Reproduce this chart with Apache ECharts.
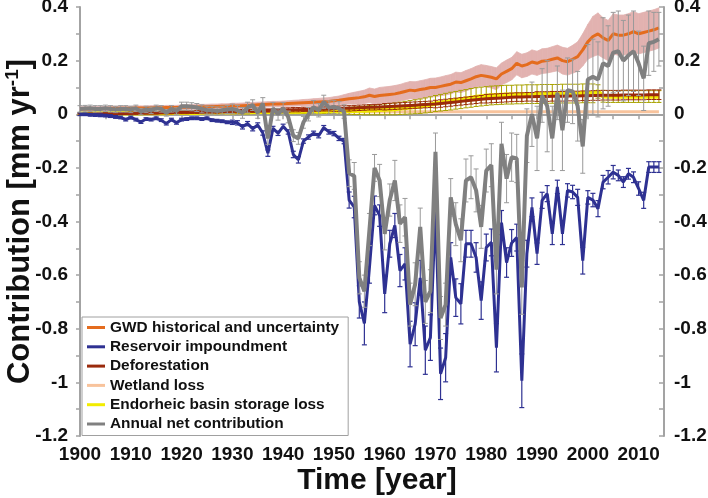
<!DOCTYPE html>
<html><head><meta charset="utf-8">
<script src="https://cdn.jsdelivr.net/npm/echarts@6/dist/echarts.min.js"></script>
<style>html,body{margin:0;padding:0;background:#fff}#c{width:708px;height:498px}</style>
</head><body><div id="c"></div>
<script>
const startYear = 1900;
const xTicks = [1900,1910,1920,1930,1940,1950,1960,1970,1980,1990,2000,2010];
const yTicks = [0.4,0.2,0,-0.2,-0.4,-0.6,-0.8,-1,-1.2];

const reservoir = [
 0,0,-0.002,-0.003,-0.004,-0.005,-0.007,-0.01,-0.012,-0.02,
 -0.012,-0.02,-0.029,-0.018,-0.02,-0.015,-0.022,-0.035,-0.02,-0.032,
 -0.02,-0.018,-0.015,-0.015,-0.018,-0.015,-0.022,-0.024,-0.026,-0.03,
 -0.03,-0.032,-0.047,-0.035,-0.054,-0.04,-0.07,-0.145,-0.053,-0.071,
 -0.045,-0.066,-0.15,-0.17,-0.1,-0.085,-0.071,-0.08,-0.05,-0.066,
 -0.072,-0.09,-0.1,-0.32,-0.346,-0.70,-0.78,-0.57,-0.34,-0.378,
 -0.67,-0.483,-0.415,-0.583,-0.558,-0.857,-0.783,-0.61,-0.88,-0.833,
 -0.359,-0.968,-0.908,-0.534,-0.684,-0.707,-0.483,-0.483,-0.534,-0.695,
 -0.497,-0.478,-0.871,-0.404,-0.553,-0.48,-0.46,-0.994,-0.52,-0.347,
 -0.52,-0.321,-0.296,-0.446,-0.271,-0.446,-0.284,-0.29,-0.31,-0.546,
 -0.31,-0.32,-0.352,-0.253,-0.235,-0.216,-0.228,-0.253,-0.222,-0.235,
 -0.277,-0.321,-0.197,-0.197,-0.197
];
const reservoirErr = [
 0.005,0.005,0.005,0.005,0.005,0.005,0.005,0.005,0.005,0.005,
 0.005,0.005,0.005,0.005,0.005,0.005,0.005,0.005,0.005,0.005,
 0.005,0.005,0.005,0.005,0.005,0.005,0.005,0.005,0.005,0.005,
 0.008,0.008,0.008,0.008,0.008,0.008,0.008,0.012,0.008,0.008,
 0.008,0.008,0.012,0.012,0.008,0.008,0.008,0.008,0.008,0.008,
 0.008,0.008,0.01,0.03,0.04,0.06,0.08,0.06,0.035,0.04,
 0.07,0.05,0.045,0.06,0.06,0.085,0.08,0.065,0.09,0.085,
 0.04,0.096,0.09,0.055,0.07,0.075,0.05,0.05,0.055,0.07,
 0.05,0.05,0.09,0.045,0.055,0.05,0.05,0.1,0.05,0.035,
 0.04,0.03,0.03,0.04,0.025,0.04,0.025,0.025,0.03,0.05,
 0.025,0.025,0.03,0.025,0.025,0.025,0.02,0.02,0.02,0.02,
 0.025,0.03,0.02,0.02,0.02
];
const netContribution = [
 0.02,0.021,0.022,0.02,0.02,0.022,0.02,0.018,0.02,0.02,
 0.018,0.022,0.01,0.018,0.015,0.022,0.02,0.005,0.02,0.012,
 0.03,0.03,0.028,0.025,0.02,0.015,0.015,0.012,0.015,0.018,
 0.02,0.015,0.005,0.025,0.034,0.005,0.04,-0.09,0.022,0.0,
 0.022,-0.01,-0.08,-0.09,-0.03,0.0,0.026,0.015,0.046,0.025,
 0.027,0.022,0.01,-0.22,-0.23,-0.61,-0.66,-0.43,-0.20,-0.247,
 -0.446,-0.32,-0.247,-0.408,-0.384,-0.71,-0.634,-0.42,-0.70,-0.66,
 -0.14,-0.76,-0.71,-0.31,-0.41,-0.47,-0.247,-0.235,-0.284,-0.42,
 -0.21,-0.19,-0.58,-0.11,-0.24,-0.16,-0.165,-0.646,-0.08,0.0,
 -0.09,0.07,0.03,-0.09,0.08,-0.06,0.09,0.085,0.03,-0.12,
 0.13,0.14,0.13,0.19,0.18,0.23,0.235,0.20,0.22,0.235,
 0.19,0.134,0.265,0.27,0.28
];
const netErr = [
 0.012,0.012,0.012,0.012,0.012,0.012,0.012,0.012,0.012,0.012,
 0.012,0.012,0.012,0.012,0.012,0.012,0.012,0.012,0.012,0.012,
 0.015,0.015,0.015,0.015,0.015,0.015,0.015,0.015,0.015,0.015,
 0.018,0.018,0.02,0.02,0.02,0.02,0.022,0.022,0.022,0.022,
 0.022,0.022,0.022,0.022,0.022,0.025,0.025,0.025,0.025,0.025,
 0.025,0.025,0.025,0.05,0.05,0.06,0.06,0.06,0.05,0.06,
 0.06,0.06,0.075,0.07,0.07,0.08,0.08,0.07,0.08,0.08,
 0.07,0.08,0.08,0.07,0.08,0.08,0.08,0.08,0.08,0.08,
 0.08,0.08,0.09,0.08,0.09,0.09,0.09,0.1,0.1,0.12,
 0.12,0.1,0.17,0.12,0.1,0.15,0.12,0.12,0.13,0.1,
 0.13,0.14,0.14,0.17,0.15,0.15,0.15,0.15,0.15,0.15,
 0.12,0.12,0.12,0.11,0.1
];
const gwd = [
 0.02,0.02,0.02,0.021,0.021,0.021,0.022,0.022,0.022,0.022,
 0.022,0.023,0.023,0.023,0.024,0.024,0.024,0.025,0.025,0.025,
 0.026,0.026,0.027,0.027,0.028,0.028,0.029,0.029,0.03,0.03,
 0.031,0.031,0.032,0.033,0.034,0.035,0.036,0.037,0.038,0.038,
 0.039,0.04,0.041,0.042,0.043,0.044,0.045,0.046,0.047,0.048,
 0.05,0.052,0.055,0.058,0.06,0.062,0.065,0.071,0.066,0.07,
 0.072,0.074,0.076,0.08,0.085,0.09,0.088,0.092,0.095,0.1,
 0.1,0.104,0.108,0.112,0.12,0.118,0.125,0.132,0.14,0.145,
 0.142,0.138,0.132,0.15,0.16,0.17,0.19,0.18,0.185,0.195,
 0.19,0.198,0.2,0.205,0.21,0.2,0.196,0.205,0.215,0.24,
 0.27,0.29,0.3,0.285,0.275,0.3,0.295,0.295,0.3,0.308,
 0.3,0.305,0.31,0.315,0.322
];
const gwdErr = [
 0.008,0.008,0.008,0.008,0.008,0.008,0.008,0.008,0.008,0.008,
 0.008,0.008,0.008,0.008,0.008,0.008,0.008,0.008,0.008,0.008,
 0.009,0.009,0.009,0.009,0.009,0.009,0.009,0.009,0.009,0.009,
 0.01,0.01,0.01,0.01,0.01,0.01,0.01,0.01,0.01,0.01,
 0.01,0.01,0.011,0.011,0.012,0.012,0.013,0.013,0.014,0.014,
 0.015,0.016,0.018,0.02,0.022,0.024,0.025,0.027,0.028,0.03,
 0.03,0.03,0.031,0.031,0.032,0.032,0.033,0.033,0.034,0.034,
 0.035,0.035,0.036,0.036,0.037,0.037,0.038,0.038,0.039,0.04,
 0.04,0.04,0.041,0.041,0.042,0.042,0.043,0.044,0.044,0.045,
 0.045,0.046,0.046,0.047,0.048,0.05,0.05,0.052,0.055,0.06,
 0.065,0.075,0.078,0.075,0.075,0.075,0.075,0.075,0.075,0.075,
 0.075,0.075,0.075,0.075,0.075
];
const deforestation = [
 0.0,0.0,0.001,0.001,0.002,0.002,0.002,0.003,0.003,0.003,
 0.004,0.004,0.004,0.005,0.005,0.005,0.006,0.006,0.006,0.007,
 0.007,0.007,0.008,0.008,0.008,0.009,0.009,0.009,0.01,0.01,
 0.011,0.011,0.012,0.012,0.013,0.013,0.014,0.014,0.015,0.015,
 0.016,0.016,0.017,0.017,0.018,0.018,0.019,0.019,0.02,0.02,
 0.021,0.021,0.022,0.022,0.023,0.024,0.025,0.026,0.026,0.027,
 0.028,0.029,0.03,0.031,0.032,0.033,0.034,0.035,0.036,0.037,
 0.038,0.04,0.042,0.044,0.046,0.048,0.05,0.052,0.054,0.056,
 0.058,0.059,0.06,0.061,0.062,0.063,0.064,0.064,0.065,0.065,
 0.066,0.066,0.066,0.067,0.067,0.067,0.068,0.068,0.068,0.069,
 0.069,0.07,0.07,0.071,0.071,0.071,0.071,0.072,0.072,0.072,
 0.072,0.072,0.073,0.073,0.073
];
const deforestationErr = [
 0.003,0.003,0.003,0.003,0.003,0.003,0.003,0.003,0.003,0.003,
 0.004,0.004,0.004,0.004,0.004,0.004,0.004,0.004,0.004,0.004,
 0.005,0.005,0.005,0.005,0.005,0.005,0.005,0.005,0.005,0.005,
 0.006,0.006,0.006,0.006,0.006,0.006,0.006,0.006,0.006,0.006,
 0.008,0.008,0.008,0.008,0.008,0.008,0.008,0.008,0.008,0.008,
 0.01,0.01,0.01,0.01,0.01,0.01,0.01,0.01,0.01,0.01,
 0.012,0.012,0.012,0.012,0.012,0.012,0.012,0.012,0.012,0.012,
 0.014,0.014,0.014,0.014,0.014,0.014,0.014,0.014,0.014,0.014,
 0.016,0.016,0.016,0.016,0.016,0.016,0.016,0.016,0.016,0.016,
 0.018,0.018,0.018,0.018,0.018,0.018,0.018,0.018,0.018,0.018,
 0.018,0.018,0.018,0.018,0.018,0.018,0.018,0.018,0.018,0.018,
 0.018,0.018,0.018,0.018,0.018
];
const wetland = [
 0.002,0.002,0.002,0.002,0.002,0.003,0.003,0.003,0.003,0.003,
 0.003,0.003,0.004,0.004,0.004,0.004,0.004,0.004,0.004,0.005,
 0.005,0.005,0.005,0.005,0.005,0.005,0.006,0.006,0.006,0.006,
 0.006,0.006,0.006,0.007,0.007,0.007,0.007,0.007,0.007,0.007,
 0.008,0.008,0.008,0.008,0.008,0.008,0.008,0.008,0.008,0.009,
 0.009,0.009,0.009,0.009,0.009,0.009,0.009,0.009,0.009,0.009,
 0.009,0.009,0.009,0.009,0.009,0.009,0.009,0.009,0.009,0.009,
 0.009,0.009,0.009,0.009,0.009,0.009,0.009,0.009,0.009,0.009,
 0.009,0.009,0.009,0.009,0.009,0.009,0.009,0.009,0.009,0.009,
 0.009,0.009,0.009,0.009,0.009,0.009,0.009,0.009,0.009,0.009,
 0.009,0.009,0.009,0.009,0.009,0.009,0.009,0.009,0.009,0.009,
 0.009,0.009,0.009,0.009,0.009
];
const endorheic = [
 0.002,0.002,0.002,0.003,0.003,0.003,0.003,0.003,0.004,0.004,
 0.004,0.004,0.004,0.005,0.005,0.005,0.005,0.005,0.006,0.006,
 0.006,0.006,0.006,0.006,0.007,0.007,0.007,0.007,0.007,0.008,
 0.008,0.008,0.008,0.008,0.009,0.009,0.009,0.009,0.009,0.01,
 0.01,0.01,0.01,0.01,0.011,0.011,0.011,0.011,0.012,0.012,
 0.012,0.012,0.013,0.013,0.013,0.014,0.014,0.015,0.016,0.017,
 0.018,0.019,0.02,0.022,0.024,0.026,0.028,0.03,0.033,0.036,
 0.04,0.043,0.046,0.049,0.052,0.055,0.058,0.061,0.064,0.066,
 0.068,0.07,0.071,0.072,0.073,0.073,0.074,0.074,0.075,0.075,
 0.075,0.076,0.076,0.076,0.076,0.077,0.077,0.077,0.077,0.078,
 0.078,0.078,0.085,0.067,0.066,0.066,0.066,0.066,0.066,0.066,
 0.066,0.066,0.066,0.066,0.066
];
const endorheicErr = [
 0.004,0.004,0.004,0.004,0.004,0.004,0.004,0.004,0.004,0.004,
 0.005,0.005,0.005,0.005,0.005,0.005,0.005,0.005,0.005,0.005,
 0.006,0.006,0.006,0.006,0.006,0.006,0.006,0.006,0.006,0.006,
 0.007,0.007,0.007,0.007,0.007,0.007,0.007,0.007,0.007,0.007,
 0.008,0.008,0.008,0.008,0.008,0.009,0.009,0.009,0.009,0.009,
 0.01,0.011,0.012,0.013,0.014,0.015,0.016,0.017,0.018,0.019,
 0.02,0.021,0.022,0.023,0.024,0.025,0.026,0.027,0.028,0.029,
 0.03,0.031,0.032,0.033,0.033,0.034,0.034,0.035,0.035,0.035,
 0.035,0.035,0.035,0.035,0.035,0.035,0.035,0.035,0.035,0.035,
 0.035,0.035,0.035,0.035,0.035,0.035,0.035,0.035,0.035,0.035,
 0.035,0.035,0.025,0.022,0.022,0.022,0.022,0.022,0.022,0.022,
 0.022,0.022,0.022,0.022,0.022
];

const years = reservoir.map((_, i) => startYear + i);
const pairs = arr => arr.map((v, i) => [years[i], v]);
const errData = (arr, err) => arr.map((v, i) => [years[i], v - err[i], v + err[i]]);
const bandData = (arr, err) => arr.slice(0, -1).map((v, i) => [
  years[i], v - err[i], v + err[i], years[i + 1], arr[i + 1] - err[i + 1], arr[i + 1] + err[i + 1]
]);

const FONT = '"Liberation Sans", Arial, sans-serif';
const C = {
  gwd: '#e46c1e', band: '#e2b2b0', res: '#2e3192', def: '#9a2a0c',
  wet: '#f8c39c', endo: '#f2ec00', endoBar: '#a8a200', net: '#808080', netBar: '#9a9a9a'
};

function errSeries(id, arr, err, color, capW, lw, z) {
  return {
    type: 'custom', id: id, silent: true, z: z,
    renderItem: function (params, api) {
      const x = api.value(0), lo = api.value(1), hi = api.value(2);
      const p1 = api.coord([x, lo]), p2 = api.coord([x, hi]);
      const st = { stroke: color, lineWidth: lw };
      return { type: 'group', children: [
        { type: 'line', shape: { x1: p1[0], y1: p1[1], x2: p2[0], y2: p2[1] }, style: st },
        { type: 'line', shape: { x1: p1[0] - capW, y1: p1[1], x2: p1[0] + capW, y2: p1[1] }, style: st },
        { type: 'line', shape: { x1: p2[0] - capW, y1: p2[1], x2: p2[0] + capW, y2: p2[1] }, style: st }
      ]};
    },
    encode: { x: 0, y: [1, 2] },
    data: errData(arr, err)
  };
}
function bandSeries(id, arr, err, color, z) {
  return {
    type: 'custom', id: id, silent: true, z: z,
    renderItem: function (params, api) {
      const a = api.coord([api.value(0), api.value(1)]);
      const b = api.coord([api.value(0), api.value(2)]);
      const c = api.coord([api.value(3), api.value(5)]);
      const d = api.coord([api.value(3), api.value(4)]);
      return { type: 'polygon', shape: { points: [a, b, c, d] },
        style: { fill: color, stroke: color, lineWidth: 0.8 } };
    },
    encode: { x: [0, 3], y: [1, 2, 4, 5] },
    data: bandData(arr, err)
  };
}
function lineSeries(name, arr, color, width, z) {
  return { type: 'line', name: name, data: pairs(arr), symbol: 'none', z: z,
    lineStyle: { color: color, width: width }, itemStyle: { color: color } };
}

const chart = echarts.init(document.getElementById('c'), null, { renderer: 'canvas' });
const axisLineGray = '#a3a3a3';
const yLabelFmt = v => { const r = Math.round(v * 10) / 10; return yTicks.indexOf(r) >= 0 ? String(r) : ''; };
chart.setOption({
  animation: false,
  backgroundColor: '#fff',
  grid: { left: 80, right: 44, top: 7, bottom: 62, containLabel: false, outerBoundsMode: 'none' },
  legend: {
    orient: 'vertical', left: 82, top: 317,
    padding: [2, 9, 3, 5], itemGap: 2.3, itemWidth: 18, itemHeight: 3,
    icon: 'rect', borderColor: '#a0a0a0', borderWidth: 1, backgroundColor: '#fff',
    textStyle: { fontFamily: FONT, fontWeight: 'bold', fontSize: 15.4, color: '#111', lineHeight: 17 },
    data: ['GWD historical and uncertainty', 'Reservoir impoundment', 'Deforestation',
           'Wetland loss', 'Endorheic basin storage loss', 'Annual net contribution'],
    z: 20
  },
  xAxis: {
    type: 'value', min: 1900, max: 2015, interval: 5,
    name: 'Time [year]', nameLocation: 'middle', nameGap: 30, nameMoveOverlap: false,
    nameTextStyle: { fontFamily: FONT, fontWeight: 'bold', fontSize: 30, color: '#111', padding: [0, 0, 0, 10] },
    axisLine: { show: true, lineStyle: { color: axisLineGray, width: 2 } },
    axisTick: { show: true, length: 5, lineStyle: { color: axisLineGray, width: 1.5 } },
    splitLine: { show: false },
    axisLabel: { margin: 9, fontFamily: FONT, fontWeight: 'bold', fontSize: 19, color: '#111',
      formatter: v => (xTicks.indexOf(v) >= 0 ? String(v) : '') }
  },
  yAxis: [
    {
      type: 'value', min: -1.2, max: 0.4, interval: 0.2, position: 'left',
      name: '{a|Contribution [mm yr}{s|-1}{a|]}', nameLocation: 'middle', nameGap: 43, nameRotate: 90,
      nameMoveOverlap: false,
      nameTextStyle: { rich: {
        a: { fontFamily: FONT, fontWeight: 'bold', fontSize: 31, color: '#111', lineHeight: 34 },
        s: { fontFamily: FONT, fontWeight: 'bold', fontSize: 19, color: '#111', verticalAlign: 'top', lineHeight: 34, padding: [0, 0, 12, 0] }
      } },
      axisLine: { show: true, lineStyle: { color: axisLineGray, width: 2 } },
      axisTick: { show: true, length: 4, lineStyle: { color: axisLineGray, width: 1.5 } },
      minorTick: { show: true, splitNumber: 2, length: 4, lineStyle: { color: axisLineGray, width: 1.5 } },
      splitLine: { show: false },
      axisLabel: { margin: 12, fontFamily: FONT, fontWeight: 'bold', fontSize: 19, color: '#111', formatter: yLabelFmt }
    },
    {
      type: 'value', min: -1.2, max: 0.4, interval: 0.2, position: 'right',
      axisLine: { show: true, lineStyle: { color: axisLineGray, width: 2 } },
      axisTick: { show: true, inside: true, length: 5, lineStyle: { color: axisLineGray, width: 1.5 } },
      minorTick: { show: true, splitNumber: 2, length: 5, lineStyle: { color: axisLineGray, width: 1.5 } },
      splitLine: { show: false },
      axisLabel: { margin: 10, fontFamily: FONT, fontWeight: 'bold', fontSize: 19, color: '#111', formatter: yLabelFmt }
    }
  ],
  series: [
    bandSeries('gwdBand', gwd, gwdErr, C.band, 1),
    lineSeries('Wetland loss', wetland, C.wet, 3, 2),
    lineSeries('Endorheic basin storage loss', endorheic, C.endo, 4.5, 3),
    errSeries('endoErr', endorheic, endorheicErr, C.endoBar, 2.5, 1, 3),
    lineSeries('Deforestation', deforestation, C.def, 3, 4),
    errSeries('defErr', deforestation, deforestationErr, C.def, 2.5, 1, 4),
    lineSeries('GWD historical and uncertainty', gwd, C.gwd, 3, 5),
    lineSeries('Reservoir impoundment', reservoir, C.res, 3, 6),
    errSeries('resErr', reservoir, reservoirErr, C.res, 2.5, 1.2, 6),
    lineSeries('Annual net contribution', netContribution, C.net, 4, 7),
    errSeries('netErr', netContribution, netErr, C.netBar, 2.5, 1, 7)
  ]
});
</script>
</body></html>
